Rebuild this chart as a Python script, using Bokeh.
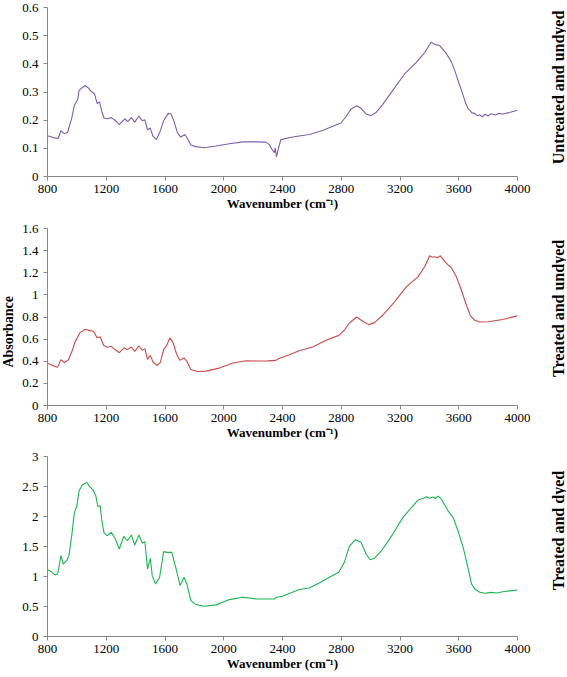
import math
from bokeh.plotting import figure
from bokeh.layouts import column, row
from bokeh.models import Range1d, FixedTicker, CustomJSTickFormatter
from bokeh.core.properties import value
from bokeh.embed import file_html
from bokeh.resources import INLINE

# ---------------- data ----------------
wn1 = [800, 850, 873, 891, 914, 937, 965, 983, 1006, 1015, 1033, 1056, 1079, 1097, 1120, 1138,
       1154, 1170, 1186, 1209, 1234, 1262, 1289, 1326, 1346, 1371, 1394, 1422, 1445, 1463, 1481,
       1500, 1518, 1541, 1563, 1593, 1623, 1641, 1662, 1685, 1707, 1735, 1753, 1776, 1810, 1867,
       1947, 2039, 2130, 2222, 2286, 2309, 2332, 2345, 2350, 2359, 2373, 2389, 2468, 2582, 2673,
       2742, 2798, 2833, 2867, 2905, 2935, 2969, 3003, 3038, 3083, 3151, 3231, 3311, 3368, 3413,
       3436, 3470, 3511, 3550, 3573, 3607, 3630, 3648, 3662, 3675, 3690, 3709, 3725, 3743, 3760,
       3780, 3800, 3820, 3850, 3870, 3900, 3950, 4000]
ab1 = [0.145, 0.137, 0.135, 0.163, 0.152, 0.157, 0.207, 0.253, 0.274, 0.306, 0.314, 0.323, 0.314,
       0.302, 0.294, 0.259, 0.265, 0.230, 0.207, 0.205, 0.209, 0.199, 0.184, 0.205, 0.195, 0.209,
       0.193, 0.215, 0.198, 0.201, 0.166, 0.172, 0.143, 0.131, 0.155, 0.201, 0.224, 0.222, 0.195,
       0.155, 0.140, 0.149, 0.135, 0.112, 0.106, 0.102, 0.108, 0.116, 0.123, 0.123, 0.122, 0.114,
       0.093, 0.085, 0.102, 0.070, 0.102, 0.131, 0.140, 0.149, 0.163, 0.178, 0.190, 0.213, 0.240,
       0.251, 0.242, 0.222, 0.216, 0.228, 0.256, 0.306, 0.364, 0.405, 0.440, 0.477, 0.469, 0.465,
       0.440, 0.407, 0.376, 0.323, 0.288, 0.259, 0.242, 0.236, 0.226, 0.224, 0.216, 0.219, 0.212,
       0.221, 0.215, 0.223, 0.218, 0.224, 0.222, 0.228, 0.235]

wn2 = [800, 850, 869, 891, 914, 942, 965, 987, 1022, 1056, 1090, 1113, 1136, 1159, 1182, 1205,
       1234, 1257, 1289, 1321, 1344, 1371, 1394, 1422, 1445, 1463, 1481, 1500, 1518, 1545, 1568,
       1591, 1609, 1634, 1655, 1678, 1701, 1730, 1749, 1776, 1822, 1879, 1970, 2062, 2153, 2233,
       2300, 2354, 2373, 2446, 2514, 2605, 2696, 2783, 2821, 2855, 2905, 2946, 2987, 3026, 3083,
       3163, 3242, 3322, 3368, 3402, 3420, 3436, 3455, 3475, 3516, 3550, 3584, 3618, 3652, 3680,
       3709, 3743, 3800, 3900, 4000]
ab2 = [0.384, 0.353, 0.347, 0.414, 0.387, 0.414, 0.483, 0.574, 0.659, 0.689, 0.677, 0.671, 0.616,
       0.619, 0.544, 0.526, 0.535, 0.508, 0.477, 0.520, 0.505, 0.529, 0.489, 0.538, 0.498, 0.514,
       0.417, 0.453, 0.393, 0.362, 0.387, 0.508, 0.538, 0.610, 0.568, 0.468, 0.408, 0.429, 0.399,
       0.326, 0.308, 0.311, 0.338, 0.384, 0.405, 0.402, 0.403, 0.408, 0.423, 0.459, 0.495, 0.529,
       0.589, 0.634, 0.680, 0.746, 0.800, 0.761, 0.731, 0.749, 0.816, 0.936, 1.072, 1.163, 1.254,
       1.353, 1.340, 1.344, 1.335, 1.353, 1.284, 1.245, 1.163, 1.042, 0.906, 0.810, 0.770, 0.755,
       0.757, 0.778, 0.810]

wn3 = [800, 827, 850, 869, 880, 891, 907, 930, 946, 965, 983, 999, 1015, 1038, 1068, 1083, 1109,
       1129, 1143, 1159, 1170, 1184, 1205, 1234, 1262, 1289, 1319, 1344, 1371, 1394, 1422, 1445,
       1463, 1481, 1500, 1513, 1536, 1563, 1591, 1616, 1646, 1673, 1703, 1730, 1749, 1776, 1810,
       1867, 1947, 2039, 2130, 2222, 2263, 2343, 2359, 2400, 2514, 2582, 2650, 2719, 2783, 2821,
       2855, 2896, 2935, 2969, 2997, 3026, 3083, 3151, 3220, 3288, 3320, 3356, 3380, 3400, 3425,
       3440, 3460, 3482, 3527, 3561, 3595, 3630, 3657, 3687, 3709, 3743, 3780, 3820, 3860, 3900,
       3950, 4000]
ab3 = [1.114, 1.081, 1.026, 1.042, 1.181, 1.347, 1.208, 1.264, 1.347, 1.680, 2.068, 2.167, 2.428,
       2.528, 2.566, 2.511, 2.445, 2.345, 2.167, 2.178, 1.929, 1.735, 1.680, 1.735, 1.624, 1.458,
       1.669, 1.596, 1.691, 1.524, 1.691, 1.558, 1.580, 1.125, 1.303, 1.014, 0.876, 0.987, 1.414,
       1.402, 1.402, 1.153, 0.848, 0.987, 0.876, 0.599, 0.532, 0.504, 0.527, 0.615, 0.654, 0.626,
       0.626, 0.626, 0.654, 0.671, 0.782, 0.809, 0.892, 0.987, 1.070, 1.236, 1.502, 1.613, 1.569,
       1.375, 1.280, 1.303, 1.458, 1.707, 1.985, 2.178, 2.270, 2.300, 2.330, 2.305, 2.325, 2.300,
       2.340, 2.289, 2.095, 1.985, 1.763, 1.486, 1.208, 0.876, 0.793, 0.737, 0.720, 0.735, 0.725,
       0.745, 0.760, 0.775]

x_ticks = [800, 1200, 1600, 2000, 2400, 2800, 3200, 3600, 4000]
y_ticks1 = [0, 0.1, 0.2, 0.3, 0.4, 0.5, 0.6]
y_ticks2 = [0, 0.2, 0.4, 0.6, 0.8, 1.0, 1.2, 1.4, 1.6]
y_ticks3 = [0, 0.5, 1.0, 1.5, 2.0, 2.5, 3.0]
side_labels = ["Untreated and undyed", "Treated and undyed", "Treated and dyed"]
left_labels = ["", "Absorbance", ""]
colors = ["#7b5fae", "#c94a4b", "#1db451"]
FONT = "Times New Roman"
AXIS_GRAY = "#868686"

FW = 470
LEFT_W = 15
RIGHT_W = 17
BORDER_L = 32
BORDER_R = 32
# (x, y, ticks, ymax, frame height, top border, bottom border, side-label y, left-label y)
panels = [
    (wn1, ab1, y_ticks1, 0.6, 169, 7, 46, 117, None),
    (wn2, ab2, y_ticks2, 1.6, 177, 6, 45, 125, 95),
    (wn3, ab3, y_ticks3, 3.0, 180, 6, 40, 133, None),
]


def text_strip(width, height, label, ypos, size):
    q = figure(width=width, height=height, output_backend="svg", toolbar_location=None,
               x_range=Range1d(0, width), y_range=Range1d(0, height),
               x_axis_type=None, y_axis_type=None,
               min_border=0, min_border_left=0, min_border_right=0,
               min_border_top=0, min_border_bottom=0)
    q.outline_line_color = None
    q.xgrid.visible = False
    q.ygrid.visible = False
    if label:
        q.text(x=[width / 2], y=[ypos], text=[label], angle=math.pi / 2,
               text_align="center", text_baseline="middle",
               text_font=value(FONT), text_font_style="bold", text_font_size=size,
               text_color="black")
    return q


rows = []
for i, (xs, ys, yt, ymax, fh, top, bottom, sy, ly) in enumerate(panels):
    p = figure(frame_width=FW, frame_height=fh, output_backend="svg", toolbar_location=None,
               x_range=Range1d(800, 4000), y_range=Range1d(0, ymax),
               min_border_left=BORDER_L, min_border_right=BORDER_R,
               min_border_top=top, min_border_bottom=bottom)
    p.outline_line_color = None
    p.xgrid.visible = False
    p.ygrid.visible = False
    p.line(xs, ys, line_color=colors[i], line_width=1.1)

    for ax in (p.xaxis[0], p.yaxis[0]):
        ax.axis_line_color = AXIS_GRAY
        ax.major_tick_line_color = AXIS_GRAY
        ax.minor_tick_line_color = None
        ax.major_tick_out = 4
        ax.major_tick_in = 0
        ax.major_label_text_font = FONT
        ax.major_label_text_font_size = "13px"
        ax.major_label_text_color = "black"
    p.xaxis.ticker = FixedTicker(ticks=x_ticks)
    p.yaxis.ticker = FixedTicker(ticks=yt)
    p.yaxis.formatter = CustomJSTickFormatter(code="return String(Math.round(tick*100)/100);")
    p.yaxis.major_label_standoff = 5
    p.xaxis.major_label_standoff = 4
    p.xaxis.axis_label = "Wavenumber (cm\u207b\u00b9)"
    p.xaxis.axis_label_text_font = FONT
    p.xaxis.axis_label_text_font_style = "bold"
    p.xaxis.axis_label_text_font_size = "13px"
    p.xaxis.axis_label_text_color = "black"
    p.xaxis.axis_label_standoff = 0

    total_h = top + fh + bottom
    left = text_strip(LEFT_W, total_h, left_labels[i], ly, "14px")
    right = text_strip(RIGHT_W, total_h, side_labels[i], sy, "16px")
    rows.append(row(left, p, right, spacing=0))

layout = column(*rows, spacing=0)
open("out.html", "w").write(file_html(layout, INLINE))
